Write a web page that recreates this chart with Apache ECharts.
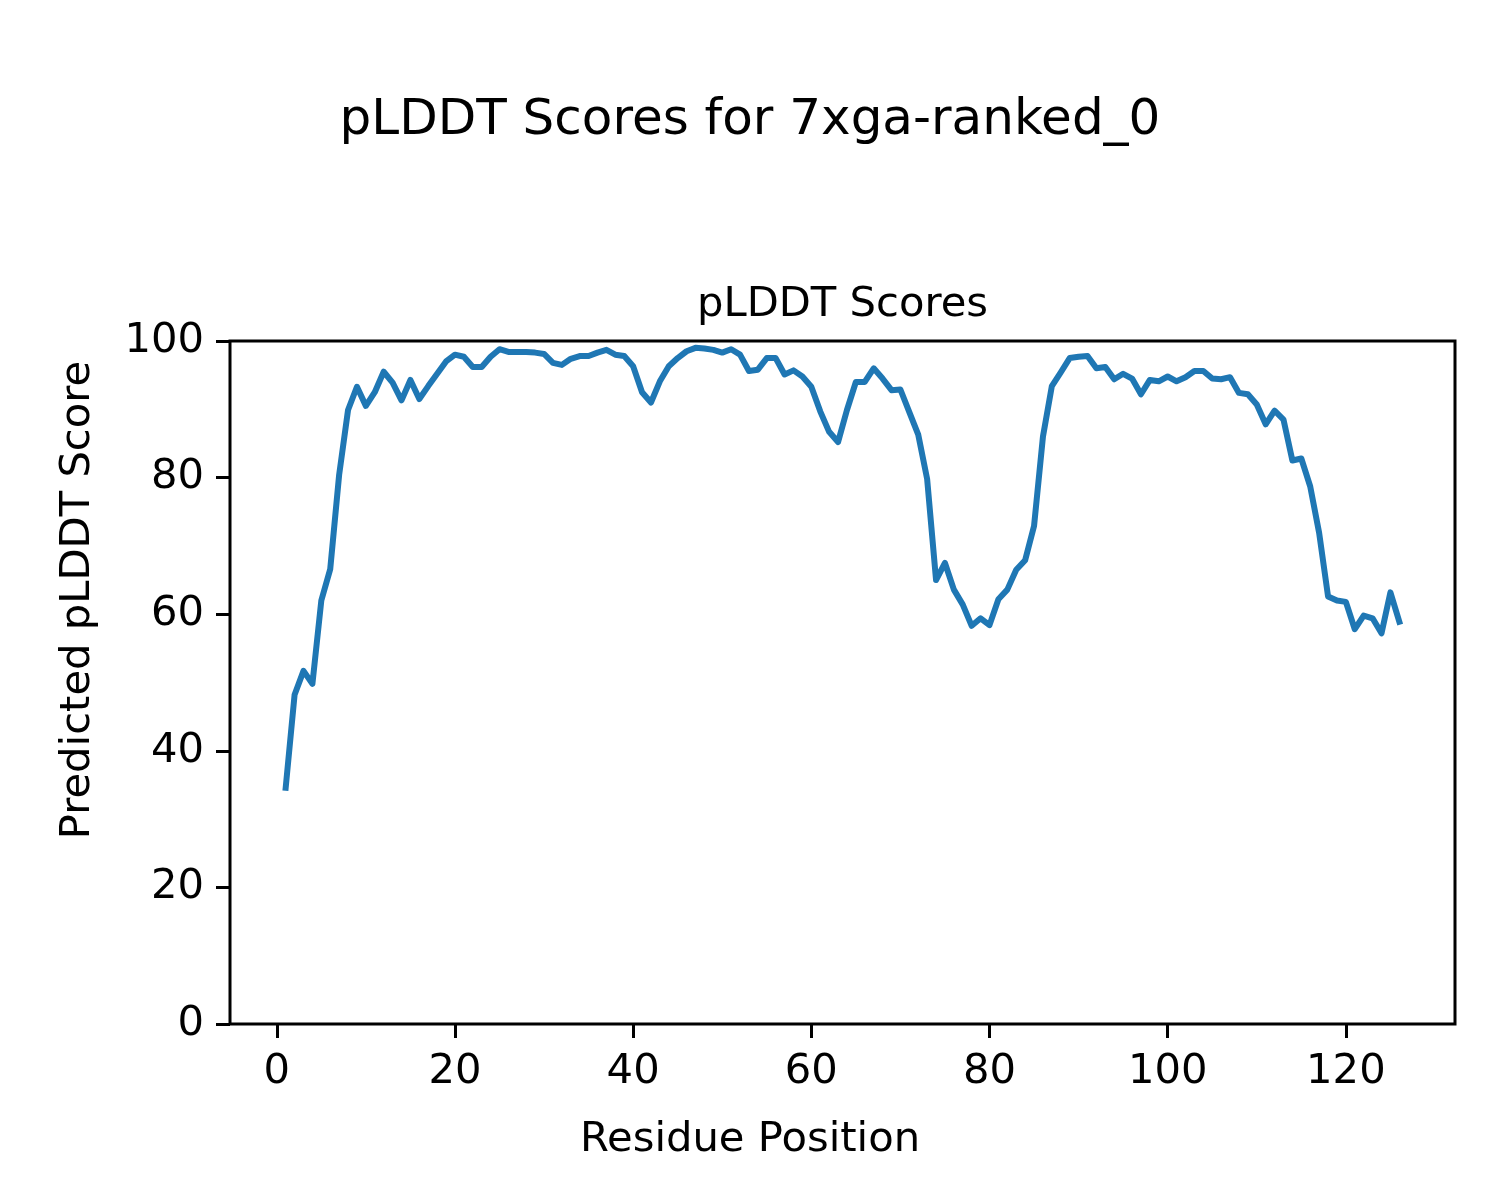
<!DOCTYPE html>
<html>
<head>
<meta charset="utf-8">
<script src="https://cdn.jsdelivr.net/npm/echarts@6/dist/echarts.min.js"></script>
<style>
html,body{margin:0;padding:0;background:#fff;}
#chart{width:1500px;height:1200px;}
</style>
</head>
<body>
<div id="chart"></div>
<script>
const figTitle = 'pLDDT Scores for 7xga-ranked_0';
const axTitle = 'pLDDT Scores';
const xLabel = 'Residue Position';
const yLabel = 'Predicted pLDDT Score';

const residues = [1,2,3,4,5,6,7,8,9,10,11,12,13,14,15,16,17,18,19,20,
  21,22,23,24,25,26,27,28,29,30,31,32,33,34,35,36,37,38,39,40,
  41,42,43,44,45,46,47,48,49,50,51,52,53,54,55,56,57,58,59,60,
  61,62,63,64,65,66,67,68,69,70,71,72,73,74,75,76,77,78,79,80,
  81,82,83,84,85,86,87,88,89,90,91,92,93,94,95,96,97,98,99,100,
  101,102,103,104,105,106,107,108,109,110,111,112,113,114,115,116,117,118,119,120,
  121,122,123,124,125,126];

const plddt = [34.6,48.2,51.7,49.8,62.0,66.6,80.4,89.9,93.3,90.5,
  92.5,95.5,93.9,91.3,94.3,91.5,93.4,95.2,97.0,98.0,
  97.7,96.2,96.2,97.7,98.8,98.4,98.4,98.4,98.3,98.1,
  96.8,96.5,97.4,97.8,97.8,98.3,98.7,98.0,97.8,96.3,
  92.5,91.0,94.1,96.3,97.5,98.5,99.0,98.9,98.7,98.3,
  98.8,98.0,95.6,95.8,97.5,97.5,95.1,95.7,94.8,93.3,
  89.7,86.7,85.2,89.9,94.0,94.0,96.0,94.5,92.8,92.9,
  89.6,86.3,79.8,65.0,67.5,63.6,61.4,58.3,59.4,58.4,
  62.2,63.6,66.5,67.9,72.9,86.0,93.4,95.4,97.5,97.7,
  97.8,96.0,96.2,94.4,95.2,94.5,92.2,94.3,94.1,94.8,
  94.1,94.7,95.6,95.6,94.5,94.4,94.7,92.4,92.2,90.7,
  87.8,89.8,88.5,82.5,82.8,78.7,71.9,62.6,62.0,61.8,
  57.8,59.8,59.4,57.2,63.2,58.9];

const xTicks = [0,20,40,60,80,100,120];
const yTicks = [0,20,40,60,80,100];

const FONT = '"DejaVu Sans", sans-serif';
const chart = echarts.init(document.getElementById('chart'), null, {renderer:'canvas'});

const seriesData = residues.map((r, i) => [r, plddt[i]]);

chart.setOption({
  animation: false,
  backgroundColor: '#ffffff',
  grid: {
    left: 230, right: 45, top: 341, bottom: 176,
    show: true, borderColor: '#000', borderWidth: 3, backgroundColor: 'transparent'
  },
  xAxis: {
    type: 'value',
    min: -5.25, max: 132.25,
    position: 'bottom',
    axisLine: {show: false, onZero: false},
    splitLine: {show: false},
    axisTick: {show: true, customValues: xTicks, length: 14, inside: false, lineStyle: {color: '#000', width: 3}},
    axisLabel: {show: true, customValues: xTicks, margin: 27, fontSize: 41.7, fontFamily: FONT, color: '#000'}
  },
  yAxis: {
    type: 'value',
    min: 0, max: 100, interval: 20,
    position: 'left',
    axisLine: {show: false, onZero: false},
    splitLine: {show: false},
    axisTick: {show: true, customValues: yTicks, length: 14, inside: false, lineStyle: {color: '#000', width: 3}},
    axisLabel: {show: true, customValues: yTicks, margin: 26, fontSize: 41.7, fontFamily: FONT, color: '#000'}
  },
  series: [{
    type: 'line',
    data: seriesData,
    showSymbol: false,
    symbol: 'none',
    lineStyle: {color: '#1f77b4', width: 6, cap: 'square', join: 'round'},
    clip: true
  }],
  graphic: [
    {type: 'text', x: 750, y: 121,
     style: {text: figTitle, textAlign: 'center', textVerticalAlign: 'middle', fontSize: 50, fontFamily: FONT, fill: '#000'}},
    {type: 'text', x: 842.5, y: 305,
     style: {text: axTitle, textAlign: 'center', textVerticalAlign: 'middle', fontSize: 41.7, fontFamily: FONT, fill: '#000'}},
    {type: 'text', x: 750, y: 1140,
     style: {text: xLabel, textAlign: 'center', textVerticalAlign: 'middle', fontSize: 41.7, fontFamily: FONT, fill: '#000'}},
    {type: 'text', x: 78, y: 600, rotation: Math.PI / 2,
     style: {text: yLabel, textAlign: 'center', textVerticalAlign: 'middle', fontSize: 41.7, fontFamily: FONT, fill: '#000'}}
  ]
});
</script>
</body>
</html>
